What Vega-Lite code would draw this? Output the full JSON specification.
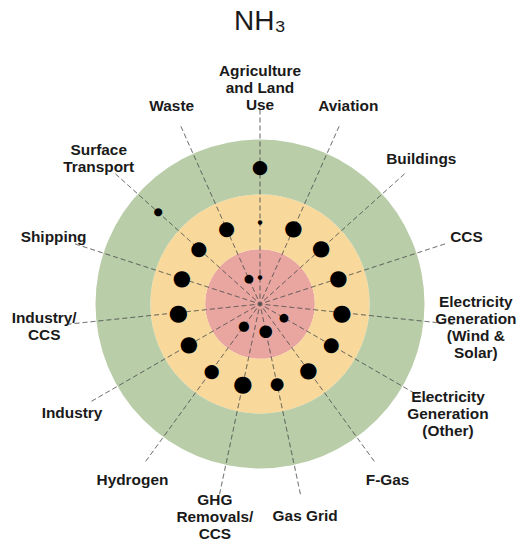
{
  "$schema": "https://vega.github.io/schema/vega-lite/v6.json",
  "width": 520,
  "height": 476,
  "autosize": "none",
  "padding": {"top": 66, "left": 0, "right": 0, "bottom": 0},
  "background": "white",
  "config": {"view": {"stroke": null}},
  "title": {
    "text": "NH₃",
    "font": "Liberation Sans",
    "fontSize": 28,
    "fontWeight": "normal",
    "color": "#1a1a1a",
    "anchor": "middle",
    "frame": "group",
    "baseline": "alphabetic",
    "offset": 6
  },
  "datasets": {
    "bands": [
      {"band": "inner", "from": 0, "to": 1},
      {"band": "middle", "from": 1, "to": 2},
      {"band": "outer", "from": 2, "to": 3}
    ],
    "sectors": [
      {"idx": 0, "label": "Agriculture\nand Land\nUse"},
      {"idx": 1, "label": "Aviation"},
      {"idx": 2, "label": "Buildings"},
      {"idx": 3, "label": "CCS"},
      {"idx": 4, "label": "Electricity\nGeneration\n(Wind &\nSolar)"},
      {"idx": 5, "label": "Electricity\nGeneration\n(Other)"},
      {"idx": 6, "label": "F-Gas"},
      {"idx": 7, "label": "Gas Grid"},
      {"idx": 8, "label": "GHG\nRemovals/\nCCS"},
      {"idx": 9, "label": "Hydrogen"},
      {"idx": 10, "label": "Industry"},
      {"idx": 11, "label": "Industry/\nCCS"},
      {"idx": 12, "label": "Shipping"},
      {"idx": 13, "label": "Surface\nTransport"},
      {"idx": 14, "label": "Waste"}
    ],
    "dots": [
      {"idx": 0, "ring": 3, "value": 12.3},
      {"idx": 13, "ring": 3, "value": 7},
      {"idx": 0, "ring": 2, "value": 3.8},
      {"idx": 1, "ring": 2, "value": 14},
      {"idx": 2, "ring": 2, "value": 14},
      {"idx": 3, "ring": 2, "value": 14},
      {"idx": 4, "ring": 2, "value": 14.7},
      {"idx": 5, "ring": 2, "value": 12.7},
      {"idx": 6, "ring": 2, "value": 14},
      {"idx": 7, "ring": 2, "value": 11},
      {"idx": 8, "ring": 2, "value": 14.7},
      {"idx": 9, "ring": 2, "value": 12.2},
      {"idx": 10, "ring": 2, "value": 14},
      {"idx": 11, "ring": 2, "value": 14.7},
      {"idx": 12, "ring": 2, "value": 14},
      {"idx": 13, "ring": 2, "value": 12.8},
      {"idx": 14, "ring": 2, "value": 12.8},
      {"idx": 0, "ring": 1, "value": 3.8},
      {"idx": 14, "ring": 1, "value": 7.5},
      {"idx": 5, "ring": 1, "value": 7.5},
      {"idx": 9, "ring": 1, "value": 8.8},
      {"idx": 7, "ring": 1, "value": 10.8}
    ]
  },
  "layer": [
    {
      "data": {"name": "bands"},
      "mark": {"type": "arc", "theta": 0, "theta2": 6.2832, "stroke": null},
      "encoding": {
        "radius": {"field": "to", "type": "quantitative", "scale": {"type": "linear", "domain": [0, 3], "range": [0, 164.5], "zero": true}},
        "radius2": {"field": "from"},
        "color": {"field": "band", "type": "nominal", "scale": {"domain": ["inner", "middle", "outer"], "range": ["#e9a6a0", "#f9d89b", "#b8cda8"]}, "legend": null}
      }
    },
    {
      "data": {"name": "sectors"},
      "mark": {"type": "arc", "fill": null, "stroke": "#4d4d4d", "strokeWidth": 1, "strokeOpacity": 0.5, "strokeDash": [5, 3]},
      "encoding": {
        "theta": {"field": "idx", "type": "quantitative", "stack": null, "scale": {"domain": [0, 15], "range": [0, 6.283185]}},
        "theta2": {"field": "idx"},
        "radius": {"datum": 3.547, "type": "quantitative", "scale": {"type": "linear", "domain": [0, 3], "range": [0, 164.5], "zero": true}}
      }
    },
    {
      "data": {"name": "dots"},
      "mark": {"type": "text", "text": "●", "font": "DejaVu Sans", "align": "center", "baseline": "middle", "color": "#000000"},
      "encoding": {
        "theta": {"field": "idx", "type": "quantitative", "stack": null, "scale": {"domain": [0, 15], "range": [0, 6.283185]}},
        "radius": {"field": "ring", "type": "quantitative", "scale": {"type": "linear", "domain": [0.5, 3.5], "range": [0, 164.5], "zero": false}},
        "size": {"field": "value", "type": "quantitative", "scale": {"type": "linear", "domain": [0, 16], "range": [0, 24.5], "zero": true}, "legend": null}
      }
    },
    {
      "data": {"name": "sectors"},
      "transform": [{"filter": "indexof(datum.label, '\\n') < 0"}],
      "mark": {"type": "text", "font": "Liberation Sans", "fontWeight": "bold", "fontSize": 15.4, "lineHeight": 17, "lineBreak": "\n", "align": "center", "baseline": "middle", "color": "#1a1a1a"},
      "encoding": {
        "theta": {"field": "idx", "type": "quantitative", "stack": null, "scale": {"domain": [0, 15], "range": [0, 6.283185]}},
        "radius": {"datum": 3.958, "type": "quantitative", "scale": {"type": "linear", "domain": [0, 3], "range": [0, 164.5], "zero": true}},
        "text": {"field": "label", "type": "nominal"}
      }
    },
    {
      "data": {"name": "sectors"},
      "transform": [{"filter": "length(split(datum.label, '\\n')) == 2"}],
      "mark": {"type": "text", "font": "Liberation Sans", "fontWeight": "bold", "fontSize": 15.4, "lineHeight": 17, "lineBreak": "\n", "align": "center", "baseline": "middle", "dy": -8.5, "color": "#1a1a1a"},
      "encoding": {
        "theta": {"field": "idx", "type": "quantitative", "stack": null, "scale": {"domain": [0, 15], "range": [0, 6.283185]}},
        "radius": {"datum": 3.958, "type": "quantitative", "scale": {"type": "linear", "domain": [0, 3], "range": [0, 164.5], "zero": true}},
        "text": {"field": "label", "type": "nominal"}
      }
    },
    {
      "data": {"name": "sectors"},
      "transform": [{"filter": "length(split(datum.label, '\\n')) == 3"}],
      "mark": {"type": "text", "font": "Liberation Sans", "fontWeight": "bold", "fontSize": 15.4, "lineHeight": 17, "lineBreak": "\n", "align": "center", "baseline": "middle", "dy": -16, "color": "#1a1a1a"},
      "encoding": {
        "theta": {"field": "idx", "type": "quantitative", "stack": null, "scale": {"domain": [0, 15], "range": [0, 6.283185]}},
        "radius": {"datum": 3.958, "type": "quantitative", "scale": {"type": "linear", "domain": [0, 3], "range": [0, 164.5], "zero": true}},
        "text": {"field": "label", "type": "nominal"}
      }
    },
    {
      "data": {"name": "sectors"},
      "transform": [{"filter": "length(split(datum.label, '\\n')) == 4"}],
      "mark": {"type": "text", "font": "Liberation Sans", "fontWeight": "bold", "fontSize": 15.4, "lineHeight": 17, "lineBreak": "\n", "align": "center", "baseline": "middle", "dy": -25, "color": "#1a1a1a"},
      "encoding": {
        "theta": {"field": "idx", "type": "quantitative", "stack": null, "scale": {"domain": [0, 15], "range": [0, 6.283185]}},
        "radius": {"datum": 3.958, "type": "quantitative", "scale": {"type": "linear", "domain": [0, 3], "range": [0, 164.5], "zero": true}},
        "text": {"field": "label", "type": "nominal"}
      }
    }
  ],
  "resolve": {"scale": {"radius": "independent", "size": "independent", "color": "independent"}}
}
